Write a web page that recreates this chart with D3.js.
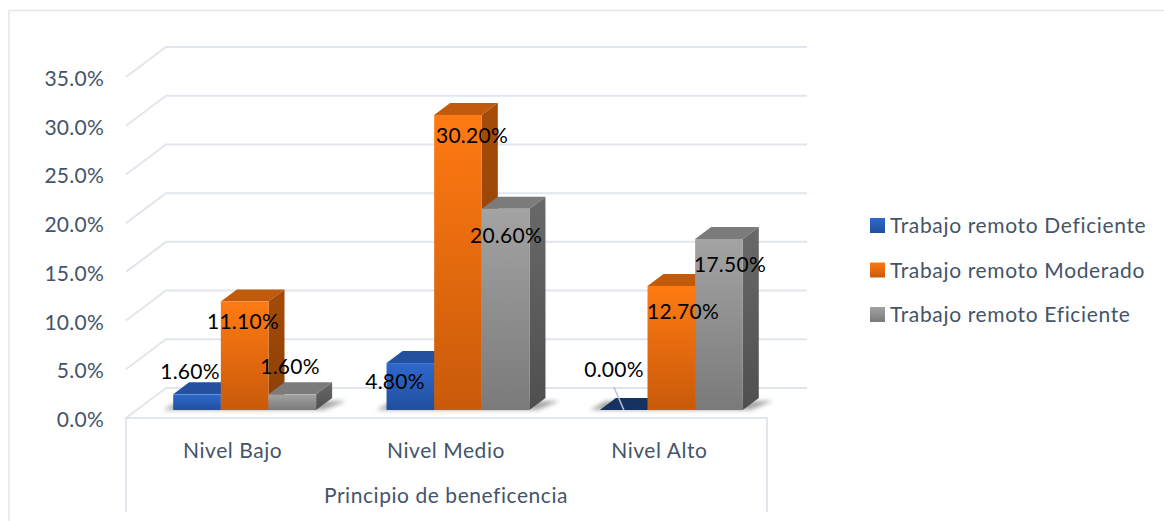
<!DOCTYPE html>
<html>
<head>
<meta charset="utf-8">
<script src="https://cdn.jsdelivr.net/npm/d3@7"></script>
<style>
  html, body { margin: 0; padding: 0; background: #fff; }
  svg { display: block; font-family: Lato, sans-serif; }
</style>
</head>
<body>
<svg id="chart" width="1164" height="521"></svg>
<script>
const categories = ['Nivel Bajo', 'Nivel Medio', 'Nivel Alto'];
const seriesNames = ['Trabajo remoto Deficiente', 'Trabajo remoto Moderado', 'Trabajo remoto Eficiente'];
const deficiente = [1.6, 4.8, 0];
const moderado = [11.1, 30.2, 12.7];
const eficiente = [1.6, 20.6, 17.5];
const yTicks = [0, 5, 10, 15, 20, 25, 30, 35];
const axisTitle = 'Principio de beneficencia';

const seriesValues = [deficiente, moderado, eficiente];
const gridColor = '#e1e5ee';
const textColor = '#44546a';
const fontSize = 21;
const wordSpacing = 0.55;   // letter spacing of the word labels
const numSpacing = 0.25;    // letter spacing of the numbers

const svg = d3.select('#chart');
const defs = svg.append('defs');

// colours per series: front top, front bottom, side top, side bottom, cap
const palette = [
  ['#2e68cc', '#214f9e', '#1c4486', '#173a73', '#23519f'],
  ['#ff7a12', '#c95a0a', '#a54c08', '#8a3f06', '#c15a0b'],
  ['#a3a3a3', '#7a7a7a', '#696969', '#4f4f4f', '#7b7b7b']
];

function gradient(id, c1, c2) {
  const g = defs.append('linearGradient').attr('id', id)
    .attr('x1', 0).attr('y1', 0).attr('x2', 0).attr('y2', 1);
  g.append('stop').attr('offset', '0%').attr('stop-color', c1);
  g.append('stop').attr('offset', '100%').attr('stop-color', c2);
}
palette.forEach((p, i) => {
  gradient('front' + i, p[0], p[1]);
  gradient('side' + i, p[2], p[3]);
});
const blur = defs.append('filter').attr('id', 'soft')
  .attr('x', '-20%').attr('y', '-100%').attr('width', '140%').attr('height', '300%');
blur.append('feGaussianBlur').attr('stdDeviation', 2);

// outer frame
svg.append('path')
  .attr('d', 'M1164,10.5H9V521')
  .attr('fill', 'none').attr('stroke', gridColor).attr('stroke-width', 1.5);

// height of a value on the wall and the axis, and on the bars
const h = d3.scaleLinear().domain([0, 35]).range([0, 341]);
const barH = d3.scaleLinear().domain([0, 35]).range([0, 342]);

const frontY = 418;   // front edge of floor
const backY = 388;    // back edge of floor
const leftX = 126;
const wallX = 166;
const wallEnd = 807;
const rightX = 767;

const grid = svg.append('g').attr('fill', 'none').attr('stroke', gridColor).attr('stroke-width', 2);
yTicks.forEach(t => {
  grid.append('path').attr('d', d3.line()([
    [leftX, frontY - h(t)], [wallX, backY - h(t)], [wallEnd, backY - h(t)]
  ]));
});

// category box under the floor
svg.append('path')
  .attr('d', `M${leftX},512V${frontY}H${rightX}V512`)
  .attr('fill', 'none').attr('stroke', gridColor).attr('stroke-width', 2);

// y labels
svg.append('g').selectAll('text').data(yTicks).join('text')
  .attr('x', 104)
  .attr('y', d => frontY - h(d) + 9)
  .attr('text-anchor', 'end')
  .attr('font-size', fontSize)
  .attr('letter-spacing', numSpacing)
  .attr('fill', textColor)
  .text(d => d.toFixed(1) + '%');

// x labels
const xLabel = d3.scaleBand().domain(categories).range([127, 767]);
svg.append('g').selectAll('text').data(categories).join('text')
  .attr('x', d => xLabel(d) + xLabel.bandwidth() / 2 - 1)
  .attr('y', 458)
  .attr('text-anchor', 'middle')
  .attr('font-size', fontSize)
  .attr('letter-spacing', wordSpacing)
  .attr('fill', textColor)
  .text(d => d);
svg.append('text')
  .attr('x', 446).attr('y', 503)
  .attr('text-anchor', 'middle')
  .attr('font-size', fontSize)
  .attr('letter-spacing', wordSpacing)
  .attr('fill', textColor)
  .text(axisTitle);

// bars
const x0 = d3.scaleBand().domain(categories).range([138, 778]).paddingInner(0.33).paddingOuter(0.165);
const x1 = d3.scaleBand().domain(d3.range(3)).range([0, x0.bandwidth()]);
const barBase = 410;
const dx = 16, dy = -12;

// floor shadows
categories.forEach(c => {
  const left = x0(c);
  svg.append('path')
    .attr('d', d3.line()([
      [left - 10, barBase], [left + 6, barBase - 9],
      [left + x0.bandwidth() + 30, barBase - 9], [left + x0.bandwidth() + 8, barBase]
    ]))
    .attr('fill', '#8a8a8a').attr('opacity', 0.75).attr('filter', 'url(#soft)');
});

const bars = svg.append('g');
categories.forEach((c, ci) => {
  seriesValues.forEach((vals, si) => {
    const v = vals[ci];
    const left = x0(c) + x1(si);
    const w = x1.bandwidth();
    const top = barBase - barH(v);
    const g = bars.append('g');
    g.append('path')   // cap
      .attr('d', d3.line()([[left, top], [left + dx, top + dy], [left + w + dx, top + dy], [left + w, top]]))
      .attr('fill', v === 0 ? '#16335f' : palette[si][4]);
    if (v > 0) {
      g.append('path')   // side
        .attr('d', d3.line()([[left + w, top], [left + w + dx, top + dy], [left + w + dx, barBase + dy], [left + w, barBase]]))
        .attr('fill', `url(#side${si})`);
      g.append('rect')   // front
        .attr('x', left).attr('y', top).attr('width', w).attr('height', barH(v))
        .attr('fill', `url(#front${si})`);
    }
  });
});

// leader line of the 0.00% label
const zeroLeft = x0('Nivel Alto');
svg.append('line')
  .attr('x1', zeroLeft + 14).attr('y1', 387)
  .attr('x2', zeroLeft + 24).attr('y2', barBase)
  .attr('stroke', '#b4c3d6').attr('stroke-width', 1.5);

// data labels were moved by hand in the source, so they sit at read-off spots
const labelPos = {
  'Nivel Bajo': [[190, 379], [243, 329], [290, 374]],
  'Nivel Medio': [[395, 389], [472, 143], [506, 243]],
  'Nivel Alto': [[614, 377], [683, 319], [730, 272]]
};
categories.forEach((c, ci) => {
  seriesValues.forEach((vals, si) => {
    svg.append('text')
      .attr('x', labelPos[c][si][0])
      .attr('y', labelPos[c][si][1])
      .attr('text-anchor', 'middle')
      .attr('font-size', fontSize)
      .attr('letter-spacing', numSpacing)
      .attr('fill', '#000')
      .text(vals[ci].toFixed(2) + '%');
  });
});

// legend
const legend = svg.append('g').selectAll('g').data(seriesNames).join('g')
  .attr('transform', (d, i) => `translate(870,${218 + i * 44.5})`);
legend.append('rect')
  .attr('width', 15).attr('height', 15)
  .attr('fill', (d, i) => `url(#front${i})`);
legend.append('text')
  .attr('x', 20).attr('y', 15)
  .attr('font-size', fontSize)
  .attr('letter-spacing', 0.65)
  .attr('fill', textColor)
  .text(d => d);
</script>
</body>
</html>
